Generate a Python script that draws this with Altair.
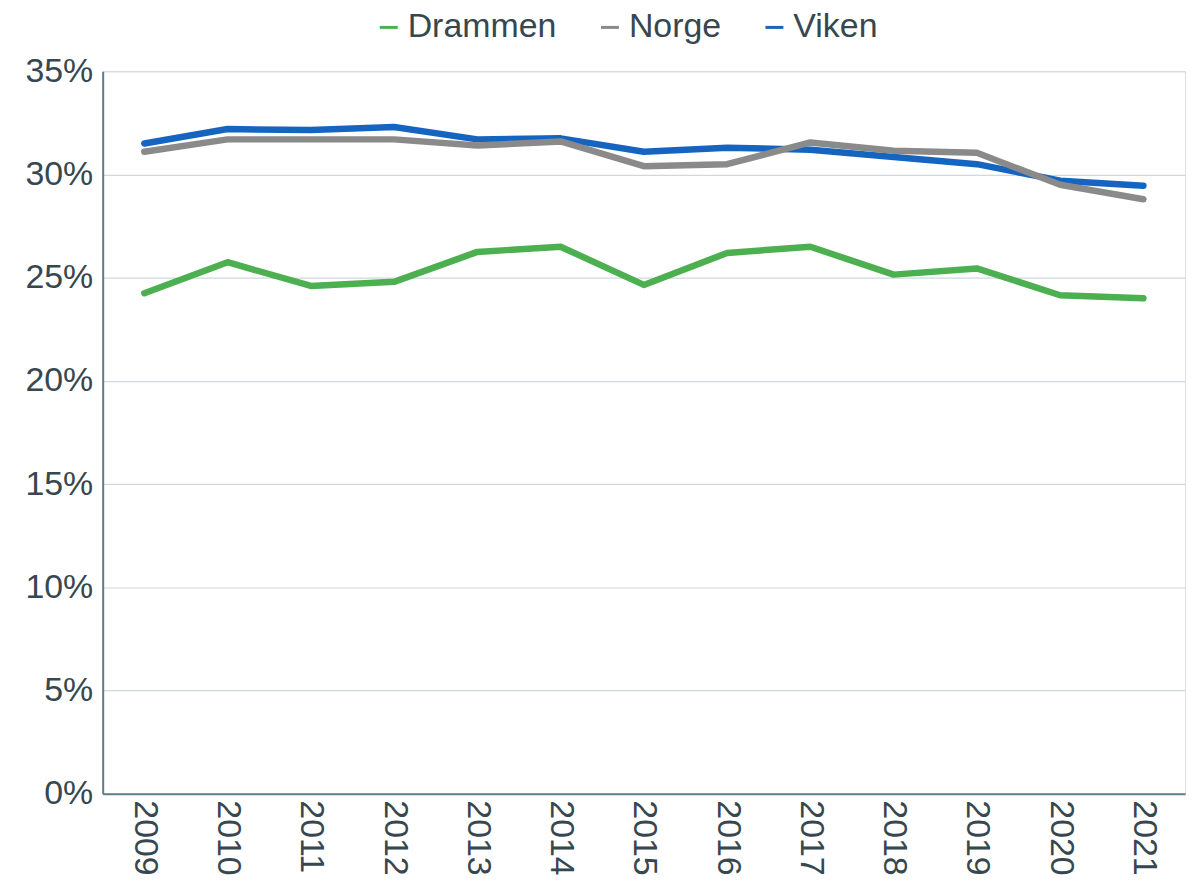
import altair as alt
import pandas as pd

years = [str(y) for y in range(2009, 2022)]
drammen = [24.25, 25.75, 24.6, 24.8, 26.25, 26.5, 24.65, 26.2, 26.5, 25.15, 25.45, 24.15, 24.0]
norge = [31.1, 31.7, 31.7, 31.7, 31.4, 31.6, 30.4, 30.5, 31.55, 31.15, 31.05, 29.5, 28.8]
viken = [31.5, 32.2, 32.15, 32.3, 31.7, 31.75, 31.1, 31.3, 31.2, 30.85, 30.5, 29.7, 29.45]

series_order = ["Drammen", "Norge", "Viken"]
colors = ["#4caf50", "#8a8a8a", "#1565c0"]

rows = []
# draw order: Drammen, Viken, Norge (grey on top of blue)
for name, vals in [("Drammen", drammen), ("Viken", viken), ("Norge", norge)]:
    for y, v in zip(years, vals):
        rows.append({"year": y, "serie": name, "value": v / 100})
df = pd.DataFrame(rows)

font = "Liberation Sans"
text_color = "#37474f"

chart = alt.Chart(df).mark_line(strokeWidth=6.5, strokeCap="round", strokeJoin="round").encode(
    x=alt.X("year:O", sort=years, title=None,
            scale=alt.Scale(type="point", padding=0.5),
            axis=alt.Axis(labelAngle=90, labelFontSize=34, labelColor=text_color,
                          labelFont=font, ticks=False, labelPadding=6,
                          domainColor="#607d8b", domainWidth=2, grid=False)),
    y=alt.Y("value:Q", title=None,
            scale=alt.Scale(domain=[0, 0.35], nice=False),
            axis=alt.Axis(format=".0%", values=[0, 0.05, 0.1, 0.15, 0.2, 0.25, 0.3, 0.35],
                          labelFontSize=34, labelColor=text_color, labelFont=font,
                          ticks=False, labelPadding=10, domainColor="#607d8b",
                          domainWidth=2, gridColor="#cfd8dc", gridWidth=1.2)),
    color=alt.Color("serie:N", scale=alt.Scale(domain=series_order, range=colors),
                    legend=alt.Legend(title=None, orient="none", direction="horizontal",
                                      legendX=270, legendY=-61,
                                      labelFontSize=34, labelColor=text_color, labelFont=font,
                                      symbolType="stroke", symbolSize=324, symbolStrokeWidth=3,
                                      columnPadding=36, labelOffset=2, padding=0)),
).properties(
    width=1086, height=725,
    autosize=alt.AutoSizeParams(type="none"),
    padding={"left": 95, "top": 62, "right": 8, "bottom": 84},
).configure_view(stroke=None).configure(background="white")

chart.save("out.html", embed_options={"renderer": "svg", "actions": False})
